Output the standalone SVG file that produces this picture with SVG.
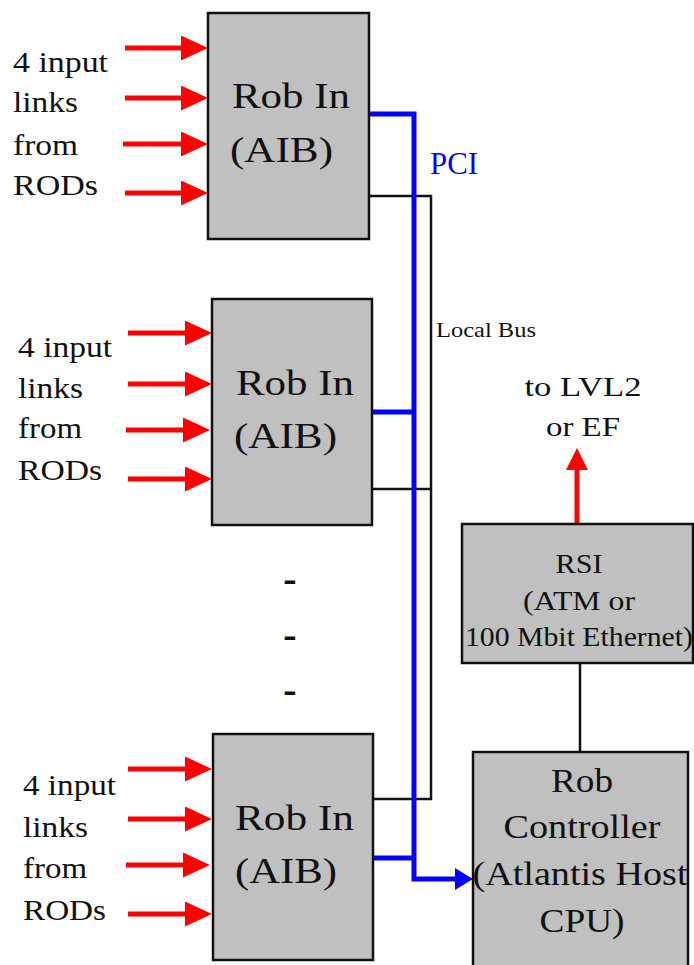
<svg xmlns="http://www.w3.org/2000/svg" width="694" height="965" viewBox="0 0 694 965">
<style>
text{font-family:"Liberation Serif","Times New Roman",serif;fill:#111}
.box{fill:#c0c0c0;stroke:#111;stroke-width:2.5}
.lbl{font-size:30px}
.rob{font-size:35px}
.red{stroke:#ff0000;stroke-width:5;fill:none}
.blue{stroke:#0000ff;stroke-width:5;fill:none}
.blk{stroke:#111;stroke-width:2.5;fill:none}
</style>
<defs>
<marker id="rh" markerUnits="userSpaceOnUse" markerWidth="27" markerHeight="25" refX="0" refY="12.5" orient="auto"><path d="M0,0 L27,12.5 L0,25 z" fill="#ff0000"/></marker>
<marker id="rhu" markerUnits="userSpaceOnUse" markerWidth="22" markerHeight="22" refX="0" refY="11" orient="auto"><path d="M0,0 L22,11 L0,22 z" fill="#ff0000"/></marker>
<marker id="bh" markerUnits="userSpaceOnUse" markerWidth="18" markerHeight="22" refX="0" refY="11" orient="auto"><path d="M0,0 L18,11 L0,22 z" fill="#0000ff"/></marker>
</defs>

<g id="connectors">
<path class="blk" d="M368,196 H431 V799 H373 M372,489 H431"/>
<path class="blk" d="M580,663 V752"/>
<path class="blue" d="M368,114 H414 V879 H455" marker-end="url(#bh)"/>
<path class="blue" d="M372,412 H414 M373,858 H414"/>
<line class="red" x1="577" y1="524" x2="577" y2="470" marker-end="url(#rhu)"/>
</g>

<g id="robin1">
<rect class="box" x="208" y="13" width="161" height="226"/>
<text class="rob" x="232" y="108" textLength="118" lengthAdjust="spacingAndGlyphs">Rob In</text>
<text class="rob" x="230" y="162" textLength="103" lengthAdjust="spacingAndGlyphs">(AIB)</text>
<g class="inputs">
<line class="red" x1="125" y1="48" x2="181" y2="48" marker-end="url(#rh)"/>
<line class="red" x1="125" y1="98" x2="181" y2="98" marker-end="url(#rh)"/>
<line class="red" x1="123" y1="144" x2="181" y2="144" marker-end="url(#rh)"/>
<line class="red" x1="125" y1="193" x2="181" y2="193" marker-end="url(#rh)"/>
</g>
<text class="lbl" x="13" y="72" textLength="95" lengthAdjust="spacingAndGlyphs">4 input</text>
<text class="lbl" x="13" y="112" textLength="65" lengthAdjust="spacingAndGlyphs">links</text>
<text class="lbl" x="13" y="155" textLength="65" lengthAdjust="spacingAndGlyphs">from</text>
<text class="lbl" x="13" y="195" textLength="85" lengthAdjust="spacingAndGlyphs">RODs</text>
</g>

<g id="robin2">
<rect class="box" x="212" y="299" width="160" height="226"/>
<text class="rob" x="236" y="395" textLength="118" lengthAdjust="spacingAndGlyphs">Rob In</text>
<text class="rob" x="234" y="448" textLength="103" lengthAdjust="spacingAndGlyphs">(AIB)</text>
<g class="inputs">
<line class="red" x1="128" y1="333" x2="185" y2="333" marker-end="url(#rh)"/>
<line class="red" x1="128" y1="384" x2="185" y2="384" marker-end="url(#rh)"/>
<line class="red" x1="126" y1="430" x2="183" y2="430" marker-end="url(#rh)"/>
<line class="red" x1="128" y1="479" x2="185" y2="479" marker-end="url(#rh)"/>
</g>
<text class="lbl" x="18" y="357" textLength="94" lengthAdjust="spacingAndGlyphs">4 input</text>
<text class="lbl" x="18" y="398" textLength="65" lengthAdjust="spacingAndGlyphs">links</text>
<text class="lbl" x="18" y="438" textLength="64" lengthAdjust="spacingAndGlyphs">from</text>
<text class="lbl" x="18" y="480" textLength="84" lengthAdjust="spacingAndGlyphs">RODs</text>
</g>

<g id="dots">
<text x="290" y="592" font-size="40" font-weight="bold" text-anchor="middle">-</text>
<text x="290" y="648" font-size="40" font-weight="bold" text-anchor="middle">-</text>
<text x="290" y="703" font-size="40" font-weight="bold" text-anchor="middle">-</text>
</g>

<g id="robin3">
<rect class="box" x="213" y="734" width="160" height="226"/>
<text class="rob" x="235" y="830" textLength="119" lengthAdjust="spacingAndGlyphs">Rob In</text>
<text class="rob" x="235" y="883" textLength="102" lengthAdjust="spacingAndGlyphs">(AIB)</text>
<g class="inputs">
<line class="red" x1="128" y1="769" x2="185" y2="769" marker-end="url(#rh)"/>
<line class="red" x1="128" y1="819" x2="185" y2="819" marker-end="url(#rh)"/>
<line class="red" x1="126" y1="865" x2="183" y2="865" marker-end="url(#rh)"/>
<line class="red" x1="128" y1="914" x2="185" y2="914" marker-end="url(#rh)"/>
</g>
<text class="lbl" x="23" y="795" textLength="93" lengthAdjust="spacingAndGlyphs">4 input</text>
<text class="lbl" x="23" y="837" textLength="65" lengthAdjust="spacingAndGlyphs">links</text>
<text class="lbl" x="23" y="878" textLength="64" lengthAdjust="spacingAndGlyphs">from</text>
<text class="lbl" x="23" y="920" textLength="83" lengthAdjust="spacingAndGlyphs">RODs</text>
</g>

<g id="labels">
<text x="430" y="174" font-size="31" textLength="48" lengthAdjust="spacingAndGlyphs" style="fill:#0000ff">PCI</text>
<text x="436" y="337" font-size="22" textLength="100" lengthAdjust="spacingAndGlyphs">Local Bus</text>
<text x="583" y="396" font-size="28" text-anchor="middle" textLength="117" lengthAdjust="spacingAndGlyphs">to LVL2</text>
<text x="583" y="436" font-size="28" text-anchor="middle" textLength="74" lengthAdjust="spacingAndGlyphs">or EF</text>
</g>

<g id="rsi">
<rect class="box" x="462" y="524" width="231" height="139"/>
<text x="579" y="573" font-size="27" text-anchor="middle" textLength="47" lengthAdjust="spacingAndGlyphs">RSI</text>
<text x="579" y="610" font-size="27" text-anchor="middle" textLength="112" lengthAdjust="spacingAndGlyphs">(ATM or</text>
<text x="579" y="646" font-size="27" text-anchor="middle" textLength="228" lengthAdjust="spacingAndGlyphs">100 Mbit Ethernet)</text>
</g>

<g id="controller">
<rect class="box" x="473" y="752" width="215" height="225"/>
<text x="582" y="792" font-size="34" text-anchor="middle" textLength="62" lengthAdjust="spacingAndGlyphs">Rob</text>
<text x="582" y="838" font-size="34" text-anchor="middle" textLength="157" lengthAdjust="spacingAndGlyphs">Controller</text>
<text x="580" y="885" font-size="34" text-anchor="middle" textLength="215" lengthAdjust="spacingAndGlyphs">(Atlantis Host</text>
<text x="582" y="932" font-size="34" text-anchor="middle" textLength="85" lengthAdjust="spacingAndGlyphs">CPU)</text>
</g>
</svg>
